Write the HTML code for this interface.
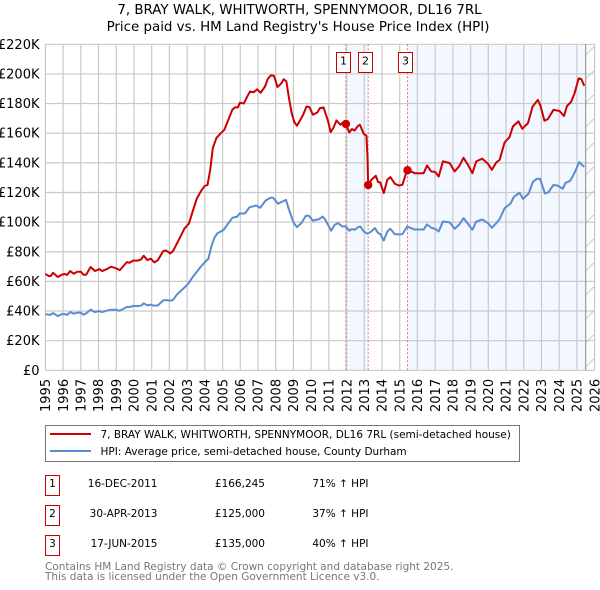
<!DOCTYPE html>
<html lang="en">
<head>
<meta charset="utf-8">
<title>7, BRAY WALK price chart</title>
<style>
html,body{margin:0;padding:0;background:#fff;}
svg{display:block;}
text{font-family:"DejaVu Sans","Liberation Sans",sans-serif;fill:#000;}
</style>
</head>
<body>
<svg id="chart" width="600" height="590" viewBox="0 0 600 590" xmlns="http://www.w3.org/2000/svg">
<defs>
<pattern id="hatch" patternUnits="userSpaceOnUse" x="585.7" y="7" width="9" height="24">
<line x1="0" y1="24" x2="9" y2="15" stroke="#ccc" stroke-width="1"/>
</pattern>
</defs>
<text x="299.5" y="14" text-anchor="middle" font-size="13.4">7, BRAY WALK, WHITWORTH, SPENNYMOOR, DL16 7RL</text>
<text x="298" y="31" text-anchor="middle" font-size="13.4">Price paid vs. HM Land Registry's House Price Index (HPI)</text>
<g id="plot"></g>

<g>
<rect x="45.5" y="425.5" width="474" height="36" fill="#fff" stroke="#777" stroke-width="1"/>
<line x1="50" y1="434" x2="91" y2="434" stroke="#cc0000" stroke-width="2"/>
<text x="100.5" y="438" font-size="10.5">7, BRAY WALK, WHITWORTH, SPENNYMOOR, DL16 7RL (semi-detached house)</text>
<line x1="50" y1="451" x2="91" y2="451" stroke="#5b8bd0" stroke-width="2"/>
<text x="100.5" y="455" font-size="10.5">HPI: Average price, semi-detached house, County Durham</text>
</g>

<g>
<rect x="45.5" y="475.5" width="14" height="20" fill="#fff" stroke="#cc0000"/>
<text x="52.5" y="487" text-anchor="middle" font-size="10.5">1</text>
<text x="157.5" y="487" text-anchor="end" font-size="10.5">16-DEC-2011</text>
<text x="265" y="487" text-anchor="end" font-size="10.5">£166,245</text>
<text x="368.5" y="487" text-anchor="end" font-size="10.5">71% ↑ HPI</text>
<rect x="45.5" y="505.5" width="14" height="20" fill="#fff" stroke="#cc0000"/>
<text x="52.5" y="517" text-anchor="middle" font-size="10.5">2</text>
<text x="157.5" y="517" text-anchor="end" font-size="10.5">30-APR-2013</text>
<text x="265" y="517" text-anchor="end" font-size="10.5">£125,000</text>
<text x="368.5" y="517" text-anchor="end" font-size="10.5">37% ↑ HPI</text>
<rect x="45.5" y="535.5" width="14" height="20" fill="#fff" stroke="#cc0000"/>
<text x="52.5" y="547" text-anchor="middle" font-size="10.5">3</text>
<text x="157.5" y="547" text-anchor="end" font-size="10.5">17-JUN-2015</text>
<text x="265" y="547" text-anchor="end" font-size="10.5">£135,000</text>
<text x="368.5" y="547" text-anchor="end" font-size="10.5">40% ↑ HPI</text>
</g>

<text x="45" y="570" font-size="10.5" style="fill:#777">Contains HM Land Registry data © Crown copyright and database right 2025.</text>
<text x="45" y="580" font-size="10.5" style="fill:#777">This data is licensed under the Open Government Licence v3.0.</text>
</svg>

<script>
const yearTicks = [1995,1996,1997,1998,1999,2000,2001,2002,2003,2004,2005,2006,2007,2008,2009,2010,2011,2012,2013,2014,2015,2016,2017,2018,2019,2020,2021,2022,2023,2024,2025,2026];
const valueTicks = [0,20,40,60,80,100,120,140,160,180,200,220];
const valueTickLabels = ["£0","£20K","£40K","£60K","£80K","£100K","£120K","£140K","£160K","£180K","£200K","£220K"];

const priceDates = [1995.0,1995.19,1995.3,1995.43,1995.7,1995.92,1996.1,1996.22,1996.4,1996.6,1996.8,1997.0,1997.15,1997.3,1997.55,1997.8,1998.05,1998.2,1998.5,1998.7,1998.95,1999.2,1999.6,1999.75,1999.95,2000.2,2000.4,2000.55,2000.75,2000.95,2001.15,2001.35,2001.65,2001.8,2002.05,2002.2,2002.4,2002.6,2002.85,2003.1,2003.3,2003.55,2003.83,2004.0,2004.15,2004.3,2004.45,2004.65,2004.9,2005.1,2005.25,2005.55,2005.7,2005.87,2005.98,2006.2,2006.4,2006.55,2006.75,2006.95,2007.15,2007.4,2007.55,2007.72,2007.9,2008.1,2008.3,2008.45,2008.6,2008.75,2008.9,2009.05,2009.2,2009.36,2009.55,2009.74,2009.9,2010.1,2010.35,2010.5,2010.7,2010.96,2011.1,2011.25,2011.43,2011.65,2011.8,2011.96,2012.15,2012.3,2012.45,2012.65,2012.75,2012.97,2013.12,2013.18,2013.22,2013.4,2013.65,2013.78,2013.9,2014.1,2014.3,2014.47,2014.72,2014.96,2015.15,2015.42,2015.85,2016.13,2016.35,2016.54,2016.78,2017.0,2017.2,2017.44,2017.82,2018.1,2018.35,2018.6,2018.85,2019.1,2019.32,2019.66,2019.98,2020.2,2020.45,2020.64,2020.92,2021.2,2021.39,2021.7,2021.92,2022.24,2022.5,2022.8,2022.93,2023.17,2023.36,2023.68,2024.02,2024.27,2024.44,2024.68,2024.87,2025.1,2025.25,2025.42];
const priceValues = [65,63.6,63.6,65.8,63,64.5,65,64.3,67,65.2,66.5,66.5,64.5,64.5,69.7,67,68.3,67,68.5,69.9,69,67.6,73,72.6,74,74,74.8,77.3,74.4,75.3,72.8,74.4,80.4,80.9,78.9,80.4,85,89.7,95.7,99,106.7,116,121.8,124.5,125,135,150,156.7,160,162.3,166.8,175.8,177.4,177.4,180.6,180,184.9,188.2,187.6,189.6,187.3,191.6,196.6,199,198.8,191.2,193.4,196.4,195,183.7,173.6,167.5,165,168.4,172.5,178,177.6,172.5,174,177,177.4,168,160.7,163.5,168.6,165.7,167.3,166.2,160.5,162.8,161.8,165,165.7,159.6,158.3,144.4,125,128.6,131.3,127,126.8,119.6,128.6,130.4,125.9,124.7,125.2,135.3,133,133,133,138.2,134.2,133.8,130.8,141,139.8,134.2,137.6,143.4,138.7,133,141,142.8,139.4,135.3,140.3,142,153.8,157.4,164.6,168,163,166.8,178,182.5,179,168.4,169.5,175.8,175,171.6,178.3,181.3,187,197,196.5,192];

const hpiDates = [1995.0,1995.19,1995.3,1995.43,1995.7,1995.92,1996.1,1996.22,1996.4,1996.6,1996.8,1997.0,1997.15,1997.3,1997.55,1997.8,1998.05,1998.2,1998.5,1998.7,1998.95,1999.2,1999.6,1999.75,1999.95,2000.2,2000.4,2000.55,2000.75,2000.95,2001.15,2001.35,2001.65,2001.8,2002.05,2002.2,2002.4,2002.7,2003.05,2003.3,2003.76,2004.0,2004.2,2004.37,2004.53,2004.72,2005.05,2005.33,2005.56,2005.82,2005.96,2006.26,2006.52,2006.9,2007.13,2007.43,2007.74,2007.86,2008.13,2008.58,2008.75,2008.95,2009.05,2009.2,2009.45,2009.7,2009.87,2010.1,2010.3,2010.45,2010.65,2010.78,2011.13,2011.33,2011.52,2011.77,2011.96,2012.15,2012.3,2012.45,2012.65,2012.78,2012.97,2013.18,2013.4,2013.6,2013.78,2013.9,2014.1,2014.3,2014.47,2014.72,2014.96,2015.15,2015.42,2015.85,2016.13,2016.35,2016.54,2016.78,2017.0,2017.2,2017.44,2017.82,2018.1,2018.35,2018.6,2018.85,2019.1,2019.32,2019.66,2019.98,2020.2,2020.45,2020.64,2020.92,2021.26,2021.44,2021.76,2021.96,2022.28,2022.52,2022.74,2022.92,2023.2,2023.4,2023.67,2023.9,2024.2,2024.36,2024.62,2024.85,2025.13,2025.25,2025.42];
const hpiValues = [38,37.5,37.5,38.6,36.6,37.8,38,37.3,39.3,38.2,38.9,38.9,37.5,38.4,40.9,39.3,40,39.3,40.4,40.9,40.9,40.2,42.7,42.7,43.4,43.4,43.6,45.2,43.8,44.3,43.6,43.8,47.2,47.4,47,47.4,50.8,54.2,58.2,62.7,69.7,73,75.3,83.6,89.2,92.6,94.6,99.3,103,103.6,105.8,105.8,110,111.2,109.7,114.6,116.6,116.4,112.4,115,108.3,101.6,98.9,96.6,99.3,104.3,104.3,101,101.6,102,103.8,102,94.2,98.2,99.3,97,97.1,94.2,95.3,94.8,96.6,97,93.7,92.1,93.7,96,92.6,92.1,87.6,93.7,95.5,91.9,91.7,91.9,97,95,95,95,98.4,96.2,95.5,93.7,100.4,99.8,95.5,98.2,102.7,98.9,94.8,100.4,101.8,99.3,96.2,99.3,102,109.4,112.6,117,119.8,115.7,119.3,127.2,129.2,129.2,119.3,120.2,125,124.7,122.5,126.5,127.9,132.8,140.5,139,137.3];

const saleLabels = ["1","2","3"];
const saleDates = [2011.96,2013.22,2015.44];
const salePrices = [166.245,125,135];
const lastDataDate = 2025.5;

const NS = "http://www.w3.org/2000/svg";
const plot = document.getElementById("plot");
const xLeft = 45.4, xRight = 594.6, yBottom = 370.3, yTop = 44.3;
function xScale(year){ return xLeft + (year - 1995) * (xRight - xLeft) / 31; }
function yScale(value){ return yBottom - value * (yBottom - yTop) / 220; }
function make(tag, attrs, parent){
  const el = document.createElementNS(NS, tag);
  for (const k in attrs) el.setAttribute(k, attrs[k]);
  (parent || plot).appendChild(el);
  return el;
}

/* shaded periods */
const shadeA = make("rect", {x:xScale(saleDates[0]), y:yTop, width:xScale(saleDates[1])-xScale(saleDates[0]), height:yBottom-yTop, fill:"#f3f7ff"});


const shadeB = make("rect", {x:xScale(saleDates[2]), y:yTop, width:xScale(lastDataDate)-xScale(saleDates[2]), height:yBottom-yTop, fill:"#f3f7ff"});


const hatchArea = make("rect", {x:xScale(lastDataDate), y:yTop, width:xRight-xScale(lastDataDate), height:yBottom-yTop, fill:"url(#hatch)"});



/* grid and tick labels */
yearTicks.forEach(function(year){
  const x = xScale(year);
  const grid = make("line", {x1:x, x2:x, y1:yTop, y2:yBottom, stroke:"#c9c9c9", "stroke-width":1.2});
  
  
  const label = make("text", {transform:"translate(" + (x + 4.7) + ",412) rotate(-90)", "font-size":13});
  
  
  label.textContent = year;
});
valueTicks.forEach(function(value, i){
  const y = yScale(value);
  const grid = make("line", {x1:xLeft, x2:xRight, y1:y, y2:y, stroke:"#c9c9c9", "stroke-width":1.2});
  
  
  const label = make("text", {x:39.5, y:y + 4.5, "text-anchor":"end", "font-size":13});
  
  
  label.textContent = valueTickLabels[i];
});

/* last data marker */
const lastLine = make("line", {x1:xScale(lastDataDate), x2:xScale(lastDataDate), y1:yTop, y2:yBottom, stroke:"#888", "stroke-width":1});



/* sale date lines */
saleDates.forEach(function(date){
  const x = xScale(date);
  const line = make("line", {x1:x, x2:x, y1:yTop, y2:yBottom, stroke:"#e8707a", "stroke-width":1, "stroke-dasharray":"2 2"});
  
  
});

/* series */
function pathFrom(dates, values){
  return dates.map(function(d, i){ return (i ? "L" : "M") + xScale(d).toFixed(2) + " " + yScale(values[i]).toFixed(2); }).join(" ");
}
const hpiLine = make("path", {d:pathFrom(hpiDates, hpiValues), fill:"none", stroke:"#5b8bd0", "stroke-width":2, "stroke-linejoin":"round"});


const priceLine = make("path", {d:pathFrom(priceDates, priceValues), fill:"none", stroke:"#cc0000", "stroke-width":2, "stroke-linejoin":"round"});



/* sale markers and badges */
saleDates.forEach(function(date, i){
  const x = xScale(date), y = yScale(salePrices[i]);
  const marker = make("circle", {cx:x, cy:y, r:4.2, fill:"#cc0000"});
  
  
  const badge = make("rect", {x:Math.round(x - 3) - 6.5, y:52.5, width:14, height:20, fill:"#fff", stroke:"#cc0000", "stroke-width":1});
  
  
  const num = make("text", {x:Math.round(x - 3) + 0.5, y:64.5, "text-anchor":"middle", "font-size":11});
  
  
  num.textContent = saleLabels[i];
});
</script>
</body>
</html>
